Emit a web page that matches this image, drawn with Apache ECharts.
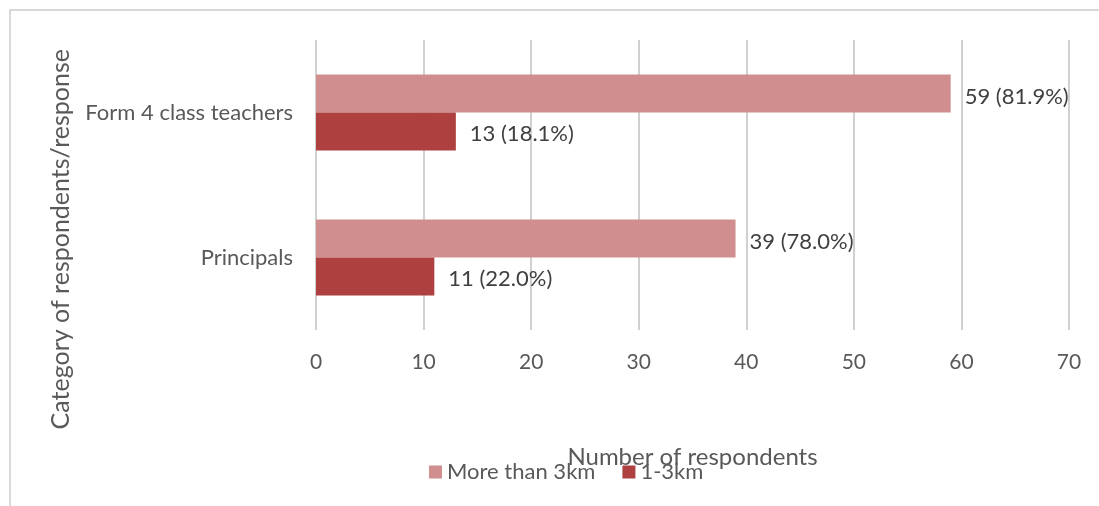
<!DOCTYPE html>
<html><head><meta charset="utf-8">
<script src="https://cdn.jsdelivr.net/npm/echarts@6/dist/echarts.min.js"></script>
<style>html,body{margin:0;padding:0;background:#fff;}#box{position:absolute;left:9px;top:9px;width:1200px;height:600px;border:2px solid #d9d9d9;box-sizing:border-box;}#c{position:absolute;left:0;top:0;width:1099px;height:506px;}</style>
</head><body><div id="box"></div><div id="c"></div>
<script>
const categories = ['Principals', 'Form 4 class teachers'];
const moreThan3km = [39, 59];
const oneTo3km = [11, 13];
const moreThan3kmPct = ['78.0%', '81.9%'];
const oneTo3kmPct = ['22.0%', '18.1%'];
const xTicks = [0, 10, 20, 30, 40, 50, 60, 70];

const font = 'Lato, "Open Sans", sans-serif';
const chart = echarts.init(document.getElementById('c'));
chart.setOption({
  animation: false,
  textStyle: { fontFamily: font },
  grid: { left: 316, right: 30, top: 40, bottom: 176 },
  legend: {
    data: ['More than 3km', '1-3km'],
    left: 424, top: 456, itemWidth: 13, itemHeight: 13, itemGap: 27, icon: 'rect',
    textStyle: { fontSize: 22, color: '#595959', fontFamily: font }
  },
  xAxis: {
    type: 'value', min: xTicks[0], max: xTicks[xTicks.length - 1], interval: 10,
    axisLine: { show: false }, axisTick: { show: false },
    splitLine: { lineStyle: { color: '#d0d0d0', width: 2 } },
    axisLabel: { fontSize: 21, color: '#595959', margin: 22, fontFamily: font },
    name: 'Number of respondents', nameLocation: 'middle', nameGap: 115,
    nameTextStyle: { fontSize: 24, color: '#595959', fontFamily: font }
  },
  yAxis: {
    type: 'category', data: categories,
    axisLine: { show: false }, axisTick: { show: false },
    axisLabel: { fontSize: 22, color: '#595959', margin: 23, fontFamily: font }
  },
  graphic: [{
    type: 'text', left: 48, top: 49, rotation: Math.PI / 2,
    style: { text: 'Category of respondents/response', fontSize: 25, fill: '#595959', fontFamily: font }
  }],
  series: [
    {
      name: 'More than 3km', type: 'bar', data: moreThan3km, barWidth: 38, barGap: '0%',
      itemStyle: { color: '#d08e8e' },
      label: { show: true, position: 'right', distance: 14, offset: [0, 3], fontSize: 22, color: '#404040', fontFamily: font,
        formatter: p => p.value + ' (' + moreThan3kmPct[p.dataIndex] + ')' }
    },
    {
      name: '1-3km', type: 'bar', data: oneTo3km, barWidth: 38, barGap: '0%',
      itemStyle: { color: '#ae4040' },
      label: { show: true, position: 'right', distance: 14, offset: [0, 2], fontSize: 22, color: '#404040', fontFamily: font,
        formatter: p => p.value + ' (' + oneTo3kmPct[p.dataIndex] + ')' }
    }
  ]
});
</script></body></html>
